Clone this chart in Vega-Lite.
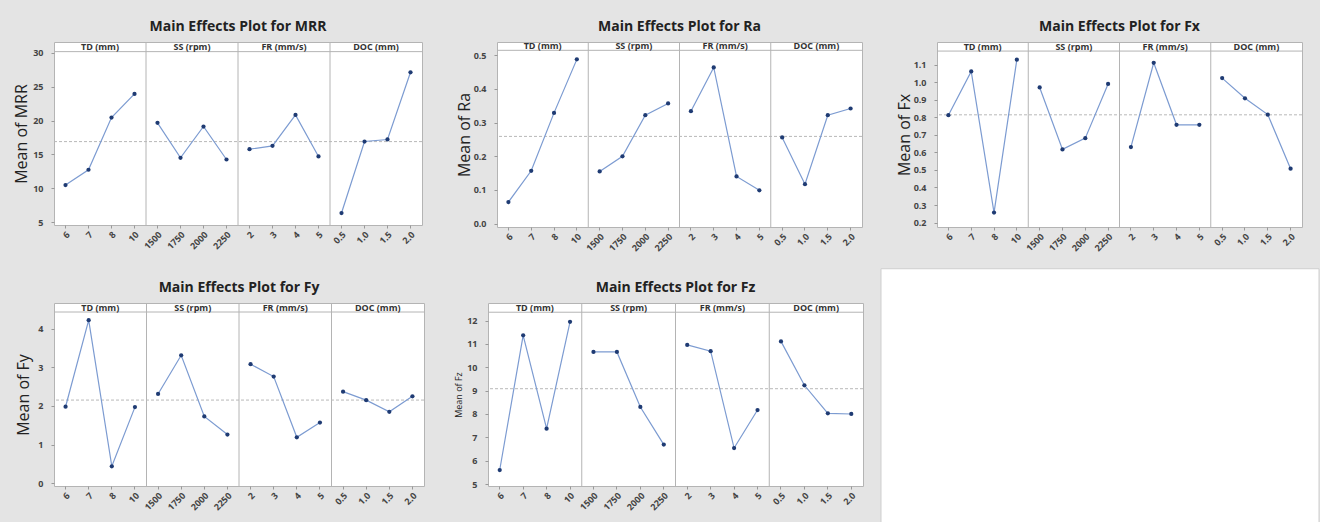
{
  "$schema": "https://vega.github.io/schema/vega-lite/v6.json",
  "background": "#e4e4e4",
  "padding": {"left": 12, "top": 19, "right": 0, "bottom": 0},
  "config": {
    "font": "Open Sans",
    "view": {"stroke": "#b4b4b4", "fill": "white", "strokeWidth": 1},
    "title": {"font": "Open Sans", "fontSize": 14, "fontWeight": "bold", "color": "#222222", "anchor": "middle", "offset": 8},
    "axisX": {"labelAngle": -45, "labelFont": "Open Sans", "labelFontSize": 9, "labelFontWeight": "bold", "labelColor": "#444444", "tickSize": 3, "tickColor": "#999999", "domain": false, "grid": false, "labelPadding": 2},
    "axisY": {"labelFont": "Open Sans", "labelFontSize": 9, "labelFontWeight": "bold", "labelColor": "#444444", "tickSize": 3, "tickColor": "#999999", "domain": false, "grid": false, "labelPadding": 8, "labelOverlap": false, "labelFlush": false, "titleFont": "Open Sans", "titleFontSize": 16, "titleFontWeight": "normal", "titleColor": "#222222", "minExtent": 14, "maxExtent": 14, "titlePadding": 11}
  },
  "datasets": {
    "mrr": [
      {"factor": "TD (mm)", "level": "6", "value": 10.49},
      {"factor": "TD (mm)", "level": "7", "value": 12.75},
      {"factor": "TD (mm)", "level": "8", "value": 20.44},
      {"factor": "TD (mm)", "level": "10", "value": 23.92},
      {"factor": "SS (rpm)", "level": "1500", "value": 19.66},
      {"factor": "SS (rpm)", "level": "1750", "value": 14.51},
      {"factor": "SS (rpm)", "level": "2000", "value": 19.12},
      {"factor": "SS (rpm)", "level": "2250", "value": 14.26},
      {"factor": "FR (mm/s)", "level": "2", "value": 15.78},
      {"factor": "FR (mm/s)", "level": "3", "value": 16.27},
      {"factor": "FR (mm/s)", "level": "4", "value": 20.83},
      {"factor": "FR (mm/s)", "level": "5", "value": 14.71},
      {"factor": "DOC (mm)", "level": "0.5", "value": 6.37},
      {"factor": "DOC (mm)", "level": "1.0", "value": 16.91},
      {"factor": "DOC (mm)", "level": "1.5", "value": 17.21},
      {"factor": "DOC (mm)", "level": "2.0", "value": 27.11}
    ],
    "ra": [
      {"factor": "TD (mm)", "level": "6", "value": 0.064},
      {"factor": "TD (mm)", "level": "7", "value": 0.157},
      {"factor": "TD (mm)", "level": "8", "value": 0.329},
      {"factor": "TD (mm)", "level": "10", "value": 0.488},
      {"factor": "SS (rpm)", "level": "1500", "value": 0.155},
      {"factor": "SS (rpm)", "level": "1750", "value": 0.2},
      {"factor": "SS (rpm)", "level": "2000", "value": 0.322},
      {"factor": "SS (rpm)", "level": "2250", "value": 0.357},
      {"factor": "FR (mm/s)", "level": "2", "value": 0.334},
      {"factor": "FR (mm/s)", "level": "3", "value": 0.464},
      {"factor": "FR (mm/s)", "level": "4", "value": 0.14},
      {"factor": "FR (mm/s)", "level": "5", "value": 0.099},
      {"factor": "DOC (mm)", "level": "0.5", "value": 0.256},
      {"factor": "DOC (mm)", "level": "1.0", "value": 0.117},
      {"factor": "DOC (mm)", "level": "1.5", "value": 0.322},
      {"factor": "DOC (mm)", "level": "2.0", "value": 0.342}
    ],
    "fx": [
      {"factor": "TD (mm)", "level": "6", "value": 0.812},
      {"factor": "TD (mm)", "level": "7", "value": 1.061},
      {"factor": "TD (mm)", "level": "8", "value": 0.257},
      {"factor": "TD (mm)", "level": "10", "value": 1.128},
      {"factor": "SS (rpm)", "level": "1500", "value": 0.97},
      {"factor": "SS (rpm)", "level": "1750", "value": 0.617},
      {"factor": "SS (rpm)", "level": "2000", "value": 0.681},
      {"factor": "SS (rpm)", "level": "2250", "value": 0.99},
      {"factor": "FR (mm/s)", "level": "2", "value": 0.63},
      {"factor": "FR (mm/s)", "level": "3", "value": 1.11},
      {"factor": "FR (mm/s)", "level": "4", "value": 0.757},
      {"factor": "FR (mm/s)", "level": "5", "value": 0.757},
      {"factor": "DOC (mm)", "level": "0.5", "value": 1.023},
      {"factor": "DOC (mm)", "level": "1.0", "value": 0.908},
      {"factor": "DOC (mm)", "level": "1.5", "value": 0.815},
      {"factor": "DOC (mm)", "level": "2.0", "value": 0.507}
    ],
    "fy": [
      {"factor": "TD (mm)", "level": "6", "value": 1.98},
      {"factor": "TD (mm)", "level": "7", "value": 4.22},
      {"factor": "TD (mm)", "level": "8", "value": 0.44},
      {"factor": "TD (mm)", "level": "10", "value": 1.97},
      {"factor": "SS (rpm)", "level": "1500", "value": 2.31},
      {"factor": "SS (rpm)", "level": "1750", "value": 3.31},
      {"factor": "SS (rpm)", "level": "2000", "value": 1.73},
      {"factor": "SS (rpm)", "level": "2250", "value": 1.26},
      {"factor": "FR (mm/s)", "level": "2", "value": 3.08},
      {"factor": "FR (mm/s)", "level": "3", "value": 2.76},
      {"factor": "FR (mm/s)", "level": "4", "value": 1.19},
      {"factor": "FR (mm/s)", "level": "5", "value": 1.57},
      {"factor": "DOC (mm)", "level": "0.5", "value": 2.37},
      {"factor": "DOC (mm)", "level": "1.0", "value": 2.15},
      {"factor": "DOC (mm)", "level": "1.5", "value": 1.85},
      {"factor": "DOC (mm)", "level": "2.0", "value": 2.25}
    ],
    "fz": [
      {"factor": "TD (mm)", "level": "6", "value": 5.6},
      {"factor": "TD (mm)", "level": "7", "value": 11.37},
      {"factor": "TD (mm)", "level": "8", "value": 7.37},
      {"factor": "TD (mm)", "level": "10", "value": 11.95},
      {"factor": "SS (rpm)", "level": "1500", "value": 10.66},
      {"factor": "SS (rpm)", "level": "1750", "value": 10.66},
      {"factor": "SS (rpm)", "level": "2000", "value": 8.3},
      {"factor": "SS (rpm)", "level": "2250", "value": 6.69},
      {"factor": "FR (mm/s)", "level": "2", "value": 10.96},
      {"factor": "FR (mm/s)", "level": "3", "value": 10.69},
      {"factor": "FR (mm/s)", "level": "4", "value": 6.54},
      {"factor": "FR (mm/s)", "level": "5", "value": 8.17},
      {"factor": "DOC (mm)", "level": "0.5", "value": 11.11},
      {"factor": "DOC (mm)", "level": "1.0", "value": 9.23},
      {"factor": "DOC (mm)", "level": "1.5", "value": 8.03},
      {"factor": "DOC (mm)", "level": "2.0", "value": 8.0}
    ]
  },
  "vconcat": [
    {
      "hconcat": [
        {
          "width": 368, "height": 183,
          "title": {"text": "Main Effects Plot for MRR"},
          "data": {"name": "mrr"},
          "layer": [
            {"transform": [{"filter": "indexof(['1500','2','0.5'], datum.level) >= 0"}], "mark": {"type": "rule", "color": "#b4b4b4", "strokeWidth": 1}, "encoding": {"x": {"field": "level", "type": "nominal", "bandPosition": 0, "title": null, "scale": {"type": "band", "domain": ["6","7","8","10","1500","1750","2000","2250","2","3","4","5","0.5","1.0","1.5","2.0"], "paddingInner": 0, "paddingOuter": 0}}}},
            {"transform": [{"filter": "datum.level === '6'"}], "mark": {"type": "rule", "color": "#b4b4b4", "strokeWidth": 1}, "encoding": {"y": {"datum": 30.15, "type": "quantitative", "title": "Mean of MRR", "scale": {"domain": [4.61, 31.57], "nice": false, "zero": false}}}},
            {"transform": [{"filter": "indexof(['8','2000','4','1.5'], datum.level) >= 0"}], "mark": {"type": "text", "font": "Open Sans", "fontSize": 9, "fontWeight": "bold", "color": "#333333", "baseline": "middle", "align": "center"}, "encoding": {"x": {"field": "level", "type": "nominal", "bandPosition": 0, "title": null}, "y": {"datum": 30.86, "type": "quantitative", "title": "Mean of MRR"}, "text": {"field": "factor"}}},
            {"transform": [{"aggregate": [{"op": "mean", "field": "value", "as": "m"}]}], "mark": {"type": "rule", "color": "#b8b8b8", "strokeDash": [3, 2], "strokeWidth": 1}, "encoding": {"y": {"field": "m", "type": "quantitative", "title": "Mean of MRR"}}},
            {"mark": {"type": "line", "color": "#7c9bd1", "strokeWidth": 1.2}, "encoding": {"x": {"field": "level", "type": "nominal", "title": null}, "y": {"field": "value", "type": "quantitative", "title": "Mean of MRR", "axis": {"title": "Mean of MRR", "values": [5, 10, 15, 20, 25, 30], "format": "d", "tickCount": 30, "labelOverlap": false}}, "detail": {"field": "factor"}, "order": {"value": null}}},
            {"mark": {"type": "point", "filled": true, "color": "#1f3b73", "size": 18, "opacity": 1}, "encoding": {"x": {"field": "level", "type": "nominal", "title": null}, "y": {"field": "value", "type": "quantitative", "title": "Mean of MRR", "axis": {"title": "Mean of MRR", "values": [5, 10, 15, 20, 25, 30], "format": "d", "tickCount": 30, "labelOverlap": false}}}}
          ]
        },
        {
          "width": 365, "height": 185,
          "title": {"text": "Main Effects Plot for Ra"},
          "data": {"name": "ra"},
          "layer": [
            {"transform": [{"filter": "indexof(['1500','2','0.5'], datum.level) >= 0"}], "mark": {"type": "rule", "color": "#b4b4b4", "strokeWidth": 1}, "encoding": {"x": {"field": "level", "type": "nominal", "bandPosition": 0, "title": null, "scale": {"type": "band", "domain": ["6","7","8","10","1500","1750","2000","2250","2","3","4","5","0.5","1.0","1.5","2.0"], "paddingInner": 0, "paddingOuter": 0}}}},
            {"transform": [{"filter": "datum.level === '6'"}], "mark": {"type": "rule", "color": "#b4b4b4", "strokeWidth": 1}, "encoding": {"y": {"datum": 0.5149, "type": "quantitative", "title": "Mean of Ra", "scale": {"domain": [-0.0101, 0.5396], "nice": false, "zero": false}}}},
            {"transform": [{"filter": "indexof(['8','2000','4','1.5'], datum.level) >= 0"}], "mark": {"type": "text", "font": "Open Sans", "fontSize": 9, "fontWeight": "bold", "color": "#333333", "baseline": "middle", "align": "center"}, "encoding": {"x": {"field": "level", "type": "nominal", "bandPosition": 0, "title": null}, "y": {"datum": 0.5272, "type": "quantitative", "title": "Mean of Ra"}, "text": {"field": "factor"}}},
            {"transform": [{"aggregate": [{"op": "mean", "field": "value", "as": "m"}]}], "mark": {"type": "rule", "color": "#b8b8b8", "strokeDash": [3, 2], "strokeWidth": 1}, "encoding": {"y": {"field": "m", "type": "quantitative", "title": "Mean of Ra"}}},
            {"mark": {"type": "line", "color": "#7c9bd1", "strokeWidth": 1.2}, "encoding": {"x": {"field": "level", "type": "nominal", "title": null}, "y": {"field": "value", "type": "quantitative", "title": "Mean of Ra", "axis": {"title": "Mean of Ra", "values": [0, 0.1, 0.2, 0.3, 0.4, 0.5], "format": ".1f", "tickCount": 30, "labelOverlap": false}}, "detail": {"field": "factor"}, "order": {"value": null}}},
            {"mark": {"type": "point", "filled": true, "color": "#1f3b73", "size": 18, "opacity": 1}, "encoding": {"x": {"field": "level", "type": "nominal", "title": null}, "y": {"field": "value", "type": "quantitative", "title": "Mean of Ra", "axis": {"title": "Mean of Ra", "values": [0, 0.1, 0.2, 0.3, 0.4, 0.5], "format": ".1f", "tickCount": 30, "labelOverlap": false}}}}
          ]
        },
        {
          "width": 365, "height": 185,
          "title": {"text": "Main Effects Plot for Fx"},
          "data": {"name": "fx"},
          "layer": [
            {"transform": [{"filter": "indexof(['1500','2','0.5'], datum.level) >= 0"}], "mark": {"type": "rule", "color": "#b4b4b4", "strokeWidth": 1}, "encoding": {"x": {"field": "level", "type": "nominal", "bandPosition": 0, "title": null, "scale": {"type": "band", "domain": ["6","7","8","10","1500","1750","2000","2250","2","3","4","5","0.5","1.0","1.5","2.0"], "paddingInner": 0, "paddingOuter": 0}}}},
            {"transform": [{"filter": "datum.level === '6'"}], "mark": {"type": "rule", "color": "#b4b4b4", "strokeWidth": 1}, "encoding": {"y": {"datum": 1.177, "type": "quantitative", "title": "Mean of Fx", "scale": {"domain": [0.175, 1.2287], "nice": false, "zero": false}}}},
            {"transform": [{"filter": "indexof(['8','2000','4','1.5'], datum.level) >= 0"}], "mark": {"type": "text", "font": "Open Sans", "fontSize": 9, "fontWeight": "bold", "color": "#333333", "baseline": "middle", "align": "center"}, "encoding": {"x": {"field": "level", "type": "nominal", "bandPosition": 0, "title": null}, "y": {"datum": 1.2029, "type": "quantitative", "title": "Mean of Fx"}, "text": {"field": "factor"}}},
            {"transform": [{"aggregate": [{"op": "mean", "field": "value", "as": "m"}]}], "mark": {"type": "rule", "color": "#b8b8b8", "strokeDash": [3, 2], "strokeWidth": 1}, "encoding": {"y": {"field": "m", "type": "quantitative", "title": "Mean of Fx"}}},
            {"mark": {"type": "line", "color": "#7c9bd1", "strokeWidth": 1.2}, "encoding": {"x": {"field": "level", "type": "nominal", "title": null}, "y": {"field": "value", "type": "quantitative", "title": "Mean of Fx", "axis": {"title": "Mean of Fx", "values": [0.2, 0.3, 0.4, 0.5, 0.6, 0.7, 0.8, 0.9, 1.0, 1.1], "format": ".1f", "tickCount": 30, "labelOverlap": false}}, "detail": {"field": "factor"}, "order": {"value": null}}},
            {"mark": {"type": "point", "filled": true, "color": "#1f3b73", "size": 18, "opacity": 1}, "encoding": {"x": {"field": "level", "type": "nominal", "title": null}, "y": {"field": "value", "type": "quantitative", "title": "Mean of Fx", "axis": {"title": "Mean of Fx", "values": [0.2, 0.3, 0.4, 0.5, 0.6, 0.7, 0.8, 0.9, 1.0, 1.1], "format": ".1f", "tickCount": 30, "labelOverlap": false}}}}
          ]
        }
      ],
      "spacing": 32
    },
    {
      "hconcat": [
        {
          "hconcat": [
            {
              "width": 370, "height": 183,
              "title": {"text": "Main Effects Plot for Fy"},
              "data": {"name": "fy"},
              "layer": [
                {"transform": [{"filter": "indexof(['1500','2','0.5'], datum.level) >= 0"}], "mark": {"type": "rule", "color": "#b4b4b4", "strokeWidth": 1}, "encoding": {"x": {"field": "level", "type": "nominal", "bandPosition": 0, "title": null, "scale": {"type": "band", "domain": ["6","7","8","10","1500","1750","2000","2250","2","3","4","5","0.5","1.0","1.5","2.0"], "paddingInner": 0, "paddingOuter": 0}}}},
                {"transform": [{"filter": "datum.level === '6'"}], "mark": {"type": "rule", "color": "#b4b4b4", "strokeWidth": 1}, "encoding": {"y": {"datum": 4.43, "type": "quantitative", "title": "Mean of Fy", "scale": {"domain": [-0.07, 4.663], "nice": false, "zero": false}}}},
                {"transform": [{"filter": "indexof(['8','2000','4','1.5'], datum.level) >= 0"}], "mark": {"type": "text", "font": "Open Sans", "fontSize": 9, "fontWeight": "bold", "color": "#333333", "baseline": "middle", "align": "center"}, "encoding": {"x": {"field": "level", "type": "nominal", "bandPosition": 0, "title": null}, "y": {"datum": 4.546, "type": "quantitative", "title": "Mean of Fy"}, "text": {"field": "factor"}}},
                {"transform": [{"aggregate": [{"op": "mean", "field": "value", "as": "m"}]}], "mark": {"type": "rule", "color": "#b8b8b8", "strokeDash": [3, 2], "strokeWidth": 1}, "encoding": {"y": {"field": "m", "type": "quantitative", "title": "Mean of Fy"}}},
                {"mark": {"type": "line", "color": "#7c9bd1", "strokeWidth": 1.2}, "encoding": {"x": {"field": "level", "type": "nominal", "title": null}, "y": {"field": "value", "type": "quantitative", "title": "Mean of Fy", "axis": {"title": "Mean of Fy", "titlePadding": 9, "values": [0, 1, 2, 3, 4], "format": "d", "tickCount": 30, "labelOverlap": false}}, "detail": {"field": "factor"}, "order": {"value": null}}},
                {"mark": {"type": "point", "filled": true, "color": "#1f3b73", "size": 18, "opacity": 1}, "encoding": {"x": {"field": "level", "type": "nominal", "title": null}, "y": {"field": "value", "type": "quantitative", "title": "Mean of Fy", "axis": {"title": "Mean of Fy", "titlePadding": 9, "values": [0, 1, 2, 3, 4], "format": "d", "tickCount": 30, "labelOverlap": false}}}}
              ]
            },
            {
              "width": 375, "height": 183,
              "title": {"text": "Main Effects Plot for Fz"},
              "data": {"name": "fz"},
              "layer": [
                {"transform": [{"filter": "indexof(['1500','2','0.5'], datum.level) >= 0"}], "mark": {"type": "rule", "color": "#b4b4b4", "strokeWidth": 1}, "encoding": {"x": {"field": "level", "type": "nominal", "bandPosition": 0, "title": null, "scale": {"type": "band", "domain": ["6","7","8","10","1500","1750","2000","2250","2","3","4","5","0.5","1.0","1.5","2.0"], "paddingInner": 0, "paddingOuter": 0}}}},
                {"transform": [{"filter": "datum.level === '6'"}], "mark": {"type": "rule", "color": "#b4b4b4", "strokeWidth": 1}, "encoding": {"y": {"datum": 12.36, "type": "quantitative", "title": "Mean of Fz", "scale": {"domain": [4.915, 12.755], "nice": false, "zero": false}}}},
                {"transform": [{"filter": "indexof(['8','2000','4','1.5'], datum.level) >= 0"}], "mark": {"type": "text", "font": "Open Sans", "fontSize": 9, "fontWeight": "bold", "color": "#333333", "baseline": "middle", "align": "center"}, "encoding": {"x": {"field": "level", "type": "nominal", "bandPosition": 0, "title": null}, "y": {"datum": 12.557, "type": "quantitative", "title": "Mean of Fz"}, "text": {"field": "factor"}}},
                {"transform": [{"aggregate": [{"op": "mean", "field": "value", "as": "m"}]}], "mark": {"type": "rule", "color": "#b8b8b8", "strokeDash": [3, 2], "strokeWidth": 1}, "encoding": {"y": {"field": "m", "type": "quantitative", "title": "Mean of Fz"}}},
                {"mark": {"type": "line", "color": "#7c9bd1", "strokeWidth": 1.2}, "encoding": {"x": {"field": "level", "type": "nominal", "title": null}, "y": {"field": "value", "type": "quantitative", "title": "Mean of Fz", "axis": {"title": "Mean of Fz", "titleFontSize": 9, "values": [5, 6, 7, 8, 9, 10, 11, 12], "format": "d", "tickCount": 30, "labelOverlap": false}}, "detail": {"field": "factor"}, "order": {"value": null}}},
                {"mark": {"type": "point", "filled": true, "color": "#1f3b73", "size": 18, "opacity": 1}, "encoding": {"x": {"field": "level", "type": "nominal", "title": null}, "y": {"field": "value", "type": "quantitative", "title": "Mean of Fz", "axis": {"title": "Mean of Fz", "titleFontSize": 9, "values": [5, 6, 7, 8, 9, 10, 11, 12], "format": "d", "tickCount": 30, "labelOverlap": false}}}}
              ]
            }
          ],
          "spacing": 28
        },
        {
          "width": 438, "height": 221,
          "data": {"values": [{}]},
          "mark": {"type": "rect", "fill": "white", "stroke": "#cfcfcf", "strokeWidth": 1},
          "encoding": {
            "y": {"datum": 0, "type": "quantitative", "scale": {"domain": [0, 1], "nice": false, "zero": false}, "axis": null},
            "y2": {"datum": 1.155}
          },
          "view": {"fill": "white", "stroke": null}
        }
      ],
      "spacing": 16
    }
  ],
  "spacing": 14
}
